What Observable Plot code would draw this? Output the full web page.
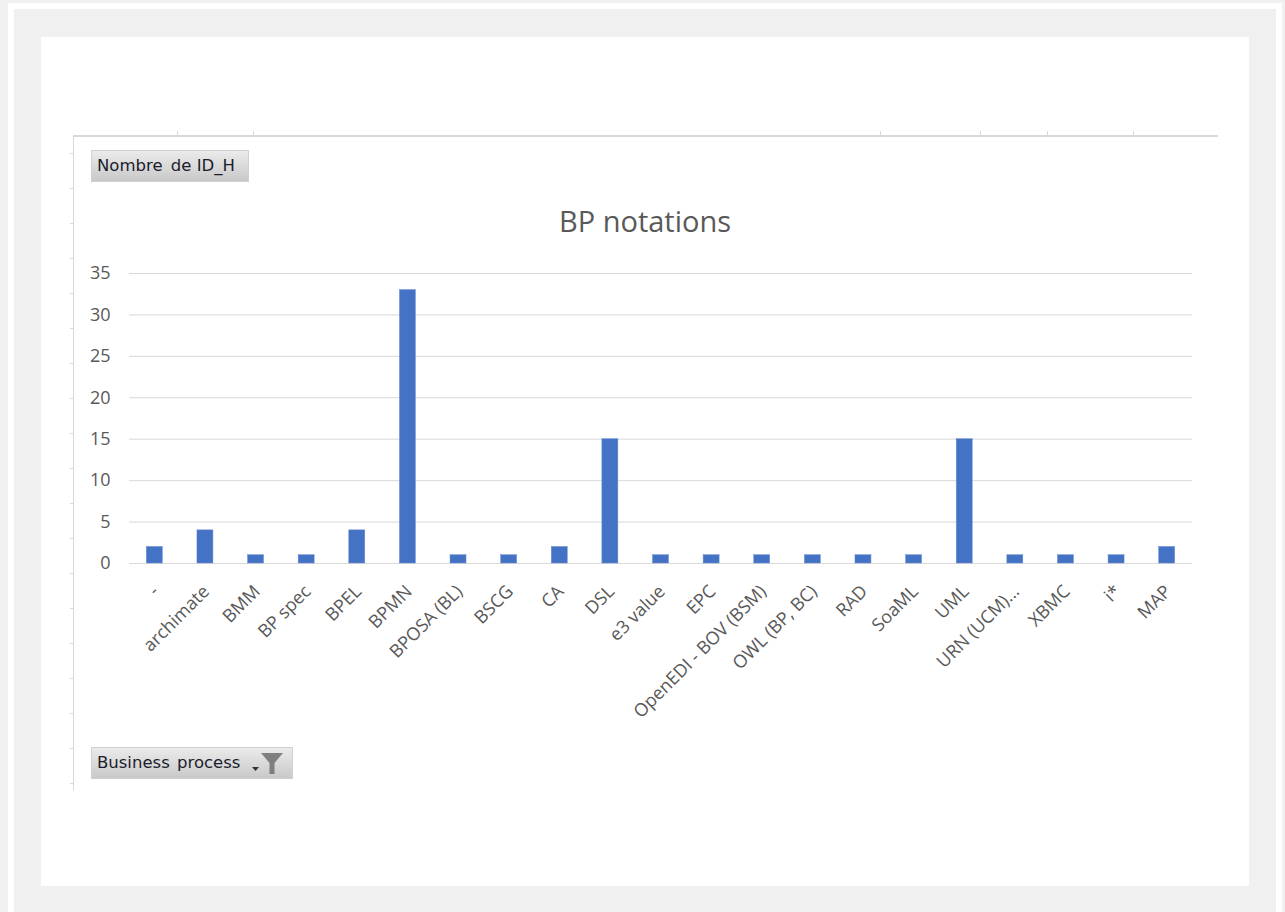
<!DOCTYPE html>
<html>
<head>
<meta charset="utf-8">
<script src="https://cdn.jsdelivr.net/npm/d3@7"></script>
<script src="https://cdn.jsdelivr.net/npm/@observablehq/plot@0.6"></script>
<style>
  html, body { margin: 0; padding: 0; background: #f0f0f0; width: 1285px; height: 912px; overflow: hidden; }
  .abs { position: absolute; }
  #frame { left: 8px; top: 3px; width: 1262px; height: 930px; border: 6px solid #ffffff; background: #f0f0f0; }
  #panel { left: 41px; top: 37px; width: 1208px; height: 849px; background: #ffffff; }
  .vline { background: #d9d9d9; }
  .btn { height: 32px; background: linear-gradient(#ebebeb, #c9c9c9); border: 1px solid #d0d0d0; box-sizing: border-box;
         font-family: "DejaVu Sans", sans-serif; font-size: 16.5px; color: #1c1c2c; line-height: 30px; padding-left: 5px; white-space: pre; }
  #title { left: 345px; width: 600px; top: 206px; text-align: center; font-family: "Open Sans", sans-serif; font-size: 29px; line-height: 1; color: #595959; }
  #chart { left: 0; top: 0; }
</style>
</head>
<body>
<div id="frame" class="abs"></div>
<div id="panel" class="abs"></div>
<div id="deco"></div>
<div class="abs btn" style="left:91px; top:150px; width:158px;">Nombre<span style="margin-left:3px"> </span>de ID_H</div>
<div class="abs btn" style="left:91px; top:747px; width:202px;">Business<span style="margin-left:2px"> </span>process<svg style="position:absolute; left:156px; top:4px" width="40" height="24" viewBox="0 0 40 24"><path d="M4 15 L11 15 L7.5 19 Z" fill="#333"/><path d="M13 1 L35 1 L26.5 11 L26.5 22 L21.5 22 L21.5 11 Z" fill="#7f7f7f"/></svg></div>
<div id="title" class="abs">BP notations</div>
<div id="chart" class="abs"></div>
<script>
const categories = ["-", "archimate", "BMM", "BP spec", "BPEL", "BPMN", "BPOSA (BL)", "BSCG", "CA", "DSL",
  "e3 value", "EPC", "OpenEDI - BOV (BSM)", "OWL (BP, BC)", "RAD", "SoaML", "UML", "URN (UCM)...", "XBMC", "i*", "MAP"];
const counts = [2, 4, 1, 1, 4, 33, 1, 1, 2, 15, 1, 1, 1, 1, 1, 1, 15, 1, 1, 1, 2];
const yTicks = [0, 5, 10, 15, 20, 25, 30, 35];

const data = categories.map((c, i) => ({category: c, count: counts[i]}));

// pivot-table cell border decoration
const deco = document.getElementById("deco");
function addDiv(l, t, w, h) {
  const d = document.createElement("div");
  d.className = "abs vline";
  d.style.cssText = `left:${l}px;top:${t}px;width:${w}px;height:${h}px;`;
  deco.appendChild(d);
}
addDiv(73, 135, 1, 655);
addDiv(73, 135, 1145, 2);
[177, 253, 880, 980, 1047, 1133].forEach(x => addDiv(x, 131, 1, 5));
for (let k = 0; k <= 18; k++) addDiv(70, 153 + 35 * k, 3, 1);

const font = "'Open Sans', sans-serif";
const chart = Plot.plot({
  width: 1285,
  height: 912,
  marginLeft: 129,
  marginRight: 93,
  marginTop: 273,
  marginBottom: 349,
  style: {background: "transparent", fontFamily: font, overflow: "visible"},
  x: {type: "band", domain: categories, paddingInner: 0.684, paddingOuter: 0.342, round: false, axis: null},
  y: {domain: [0, 35], axis: null, label: null},
  marks: [
    Plot.gridY(yTicks, {stroke: "#d9d9d9", strokeOpacity: 1, strokeWidth: 1}),
    Plot.barY(data, {x: "category", y: "count", fill: "#4472c4", stroke: "#6b8fd4", strokeWidth: 0.5}),
    Plot.axisY(yTicks, {tickSize: 0, tickPadding: 19, fontSize: 18, fill: "#595959", label: null, tickFormat: d => String(d)}),
    Plot.text(data, {x: "category", y: () => 0, text: "category", rotate: -45, textAnchor: "end", lineAnchor: "middle",
      dx: 1, dy: 25, fontSize: 18, fill: "#595959", fontFamily: font})
  ]
});
document.getElementById("chart").appendChild(chart);
</script>
</body>
</html>
